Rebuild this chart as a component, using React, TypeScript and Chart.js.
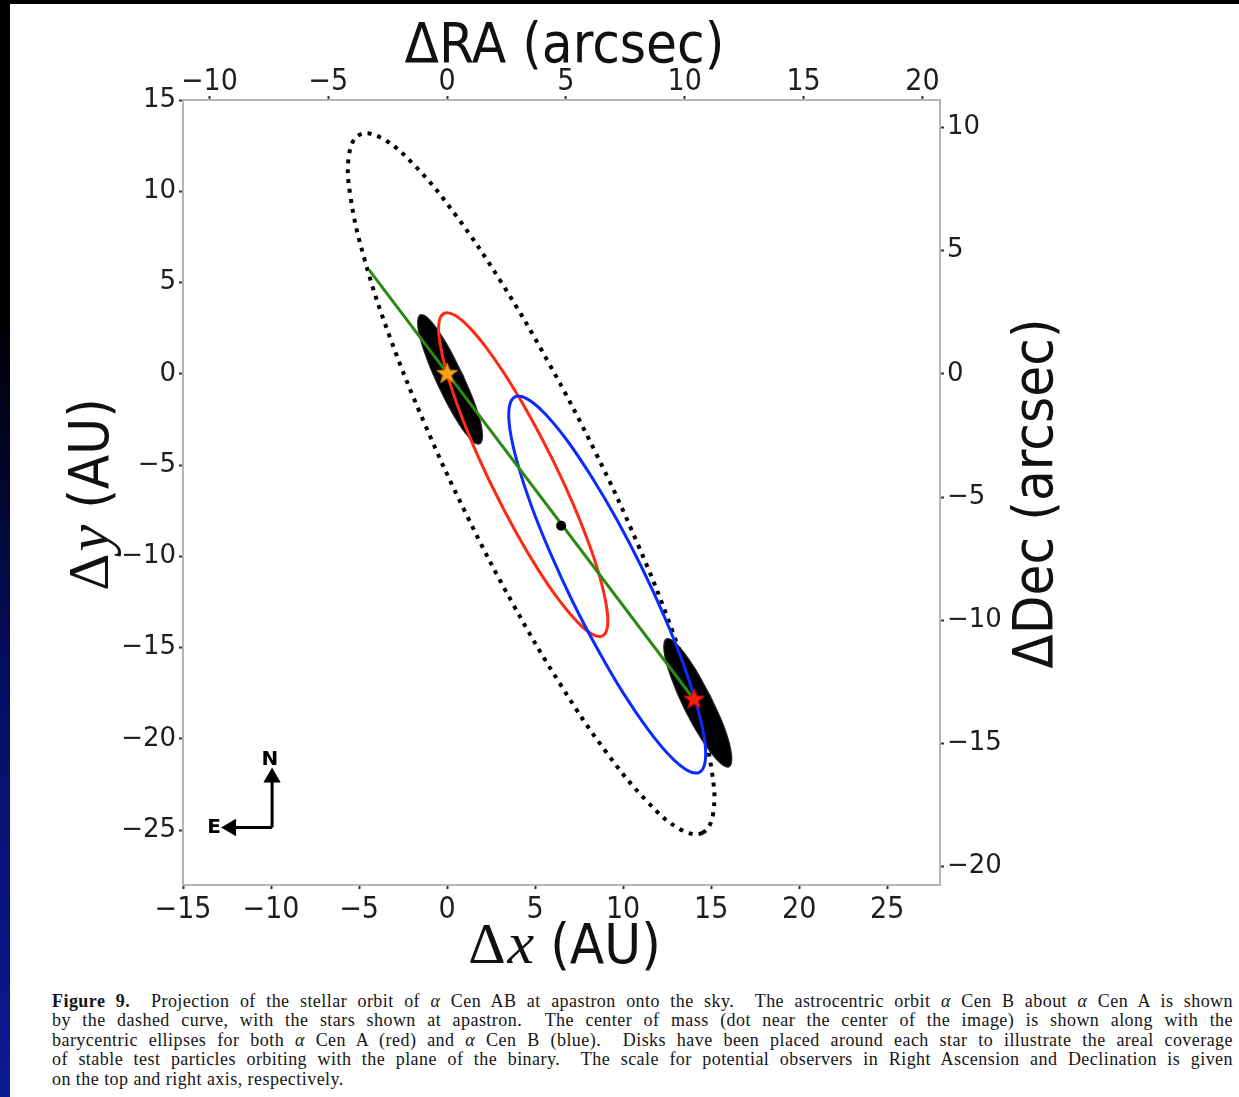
import React, { useEffect, useRef } from "react";
import { Chart, registerables } from "chart.js";

Chart.register(...registerables);

// ---------------- data ----------------
const X_TICKS = [-15, -10, -5, 0, 5, 10, 15, 20, 25];
const Y_TICKS = [15, 10, 5, 0, -5, -10, -15, -20, -25];
const RA_TICKS = [-10, -5, 0, 5, 10, 15, 20];
const DEC_TICKS = [10, 5, 0, -5, -10, -15, -20];
const X_MIN = -15;
const X_MAX = 28;
const Y_MIN = -28;
const Y_MAX = 15;
const AU_PER_ARCSEC = 1.35;

// astrocentric orbit of B about A (dotted)
const ORBIT_REL_X = [14.51, 15.12, 15.03, 14.24, 12.8, 10.82, 8.43, 5.78, 3.07, 0.47, -1.83, -3.68, -4.96, -5.57, -5.48, -4.69, -3.26, -1.27, 1.12, 3.76, 6.48, 9.07, 11.38, 13.23];
const ORBIT_REL_Y = [-25.14, -24.04, -21.72, -18.32, -14.09, -9.3, -4.3, 0.59, 5.03, 8.72, 11.4, 12.89, 13.1, 12.0, 9.67, 6.28, 2.04, -2.74, -7.75, -12.64, -17.08, -20.76, -23.44, -24.94];

// barycentric ellipse of alpha Cen A (red)
const ORBIT_A_X = [-0.17, -0.46, -0.41, -0.05, 0.62, 1.53, 2.64, 3.86, 5.11, 6.31, 7.38, 8.23, 8.82, 9.11, 9.06, 8.7, 8.04, 7.12, 6.01, 4.79, 3.54, 2.34, 1.28, 0.42];
const ORBIT_A_Y = [3.31, 2.8, 1.73, 0.16, -1.8, -4.01, -6.32, -8.58, -10.63, -12.33, -13.57, -14.26, -14.36, -13.85, -12.77, -11.2, -9.25, -7.04, -4.73, -2.47, -0.42, 1.29, 2.53, 3.22];

// barycentric ellipse of alpha Cen B (blue)
const ORBIT_B_X = [14.33, 14.66, 14.62, 14.19, 13.42, 12.35, 11.06, 9.64, 8.18, 6.79, 5.55, 4.55, 3.86, 3.53, 3.58, 4.01, 4.78, 5.85, 7.13, 8.56, 10.01, 11.41, 12.65, 13.65];
const ORBIT_B_Y = [-21.83, -21.24, -19.99, -18.16, -15.88, -13.31, -10.61, -7.98, -5.6, -3.61, -2.17, -1.37, -1.26, -1.85, -3.1, -4.93, -7.21, -9.78, -12.47, -15.1, -17.49, -19.47, -20.92, -21.72];

// disks of stable test particles
const DISK_A_X = [0.85, -0.1, -0.96, -1.5, -1.62, -1.25, -0.5, 0.44, 1.3, 1.84, 1.96, 1.6, 0.85];
const DISK_A_Y = [-0.05, 1.69, 2.88, 3.2, 2.58, 1.2, -0.57, -2.31, -3.5, -3.8, -3.15, -1.8, -0.05];
const DISK_B_X = [14.96, 13.98, 13.09, 12.5, 12.36, 12.74, 13.52, 14.5, 15.4, 15.99, 16.12, 15.74, 14.96];
const DISK_B_Y = [-17.74, -16.06, -14.9, -14.54, -15.18, -16.57, -18.34, -20.02, -21.16, -21.5, -20.84, -19.45, -17.74];

// stars, centre of mass, line of apsides
const STAR_A = { x: 0, y: 0 };
const STAR_B = { x: 14.03, y: -17.84 };
const CENTER_OF_MASS = { x: 6.48, y: -8.32 };
const LINE_X = [-4.43, 14.03];
const LINE_Y = [5.69, -17.84];

// compass
const COMPASS_N_X = [-9.94, -9.94];
const COMPASS_N_Y = [-24.85, -22.11];
const COMPASS_E_X = [-9.94, -12.27];
const COMPASS_E_Y = [-24.85, -24.85];
const LABEL_N = { x: -10.06, y: -21.13, text: "N" };
const LABEL_E = { x: -13.24, y: -24.85, text: "E" };

const CAPTION_LINES = [
  ["Figure 9.", "  Projection of the stellar orbit of ", "α", " Cen AB at apastron onto the sky.  The astrocentric orbit ", "α", " Cen B about ", "α", " Cen A is shown"],
  ["", "by the dashed curve, with the stars shown at apastron.  The center of mass (dot near the center of the image) is shown along with the"],
  ["", "barycentric ellipses for both ", "α", " Cen A (red) and ", "α", " Cen B (blue).  Disks have been placed around each star to illustrate the areal coverage"],
  ["", "of stable test particles orbiting with the plane of the binary.  The scale for potential observers in Right Ascension and Declination is given"],
  ["", "on the top and right axis, respectively."],
];

// ---------------- helpers ----------------
const SANS = "'DejaVu Sans', sans-serif";
const COND = "'DejaVu Sans Condensed', 'DejaVu Sans', sans-serif";
const SERIF = "'Liberation Serif', serif";

const pts = (xs: number[], ys: number[]) => xs.map((x, i) => ({ x, y: ys[i] }));
const closedLoop = (xs: number[], ys: number[]) => {
  const n = xs.length;
  const idx = [n - 1, ...xs.map((_, i) => i), 0, 1];
  return idx.map((i) => ({ x: xs[i], y: ys[i] }));
};
const fmt = (v: any) => (Number(v) < 0 ? "\u2212" + Math.abs(Number(v)) : String(v));

function starCanvas(fill: string, stroke: string, r: number) {
  const size = Math.ceil(2 * r + 4);
  const c = document.createElement("canvas");
  c.width = size;
  c.height = size;
  const g = c.getContext("2d")!;
  g.beginPath();
  for (let i = 0; i < 10; i++) {
    const ang = -Math.PI / 2 + (i * Math.PI) / 5;
    const rr = i % 2 === 0 ? r : r * 0.42;
    g.lineTo(size / 2 + rr * Math.cos(ang), size / 2 + rr * Math.sin(ang));
  }
  g.closePath();
  g.fillStyle = fill;
  g.fill();
  g.strokeStyle = stroke;
  g.lineWidth = 1;
  g.stroke();
  return c;
}

function drawParts(ctx: CanvasRenderingContext2D, parts: { text: string; font: string; gap?: number }[], x: number, y: number, rot: number) {
  ctx.save();
  ctx.translate(x, y);
  ctx.rotate(rot);
  let total = 0;
  const widths = parts.map((p) => {
    ctx.font = p.font;
    const w = ctx.measureText(p.text).width;
    total += w + (p.gap || 0);
    return w;
  });
  let cx = -total / 2;
  ctx.textAlign = "left";
  ctx.textBaseline = "alphabetic";
  parts.forEach((p, i) => {
    ctx.font = p.font;
    ctx.fillText(p.text, cx, 0);
    cx += widths[i] + (p.gap || 0);
  });
  ctx.restore();
}

const textPlugin = {
  id: "figureTexts",
  afterDraw(chart: any) {
    const ctx = chart.ctx as CanvasRenderingContext2D;
    const ca = chart.chartArea;
    const xs = chart.scales.x;
    const ys = chart.scales.y;
    ctx.save();
    ctx.fillStyle = "#111";
    const midX = (ca.left + ca.right) / 2;
    const midY = (ca.top + ca.bottom) / 2;
    drawParts(ctx, [{ text: "ΔRA (arcsec)", font: `56px ${COND}` }], midX + 3, ca.top - 38, 0);
    drawParts(
      ctx,
      [
        { text: "Δ", font: `58px ${SERIF}`, gap: 2 },
        { text: "x", font: `italic 60px ${SERIF}`, gap: 0 },
        { text: " (AU)", font: `56px ${COND}` },
      ],
      midX + 3,
      ca.bottom + 78,
      0
    );
    drawParts(
      ctx,
      [
        { text: "Δ", font: `58px ${SERIF}`, gap: 2 },
        { text: "y", font: `italic 60px ${SERIF}`, gap: 0 },
        { text: " (AU)", font: `56px ${COND}` },
      ],
      ca.left - 75,
      midY + 2,
      -Math.PI / 2
    );
    drawParts(ctx, [{ text: "ΔDec (arcsec)", font: `56px ${COND}` }], ca.right + 112, midY + 1, -Math.PI / 2);

    ctx.font = `bold 20px ${SANS}`;
    ctx.textAlign = "center";
    ctx.textBaseline = "middle";
    ctx.fillStyle = "#000";
    [LABEL_N, LABEL_E].forEach((l) => {
      ctx.fillText(l.text, xs.getPixelForValue(l.x), ys.getPixelForValue(l.y));
    });
    ctx.restore();
  },
};

function axis(position: string, min: number, max: number, ticks: number[], family: string, size: number, fit: number, pad: number) {
  const horizontal = position === "top" || position === "bottom";
  return {
    type: "linear",
    position,
    min,
    max,
    afterBuildTicks: (s: any) => {
      s.ticks = ticks.map((v) => ({ value: v }));
    },
    afterFit: (s: any) => {
      if (horizontal) s.height = fit;
      else s.width = fit;
    },
    ticks: {
      font: { family, size },
      color: "#1e1e1e",
      padding: pad,
      autoSkip: false,
      maxRotation: 0,
      minRotation: 0,
      callback: fmt,
    },
    grid: { drawOnChartArea: false, drawTicks: true, tickLength: 4, tickWidth: 2, tickColor: "#333" },
    border: { display: true, color: "#b4b4b4", width: 2 },
  };
}

function closedCurve(xs: number[], ys: number[], color: string, width: number, order: number, dash?: number[]) {
  const n = xs.length;
  const hidden = "rgba(0,0,0,0)";
  return {
    data: closedLoop(xs, ys),
    showLine: true,
    borderColor: color,
    borderWidth: width,
    borderDash: dash || [],
    borderCapStyle: "butt",
    tension: 0.4,
    pointRadius: 0,
    fill: false,
    order,
    segment: {
      borderColor: (c: any) => (c.p0DataIndex === 0 || c.p0DataIndex === n + 1 ? hidden : color),
    },
  };
}

function disk(xs: number[], ys: number[]) {
  return {
    data: pts(xs, ys),
    showLine: true,
    borderColor: "rgba(0,0,0,0.85)",
    backgroundColor: "#000",
    borderWidth: 2.5,
    tension: 0.4,
    pointRadius: 0,
    fill: "shape",
    order: 5,
  };
}

function ChartView() {
  const ref = useRef<HTMLCanvasElement | null>(null);
  useEffect(() => {
    if (!ref.current) return;
    const starA = starCanvas("#f7a21b", "#c87800", 11);
    const starB = starCanvas("#ff1e0c", "#c00000", 11);
    const chart = new Chart(ref.current, {
      type: "line",
      data: {
        datasets: [
          { data: [STAR_A], showLine: false, pointStyle: starA as any, pointRadius: 11, order: 0 },
          { data: [STAR_B], showLine: false, pointStyle: starB as any, pointRadius: 11, order: 0 },
          { data: [CENTER_OF_MASS], showLine: false, pointRadius: 5, pointBackgroundColor: "#000", pointBorderColor: "#000", pointBorderWidth: 0, order: 1 },
          { data: pts(LINE_X, LINE_Y), showLine: true, borderColor: "#2a8a12", borderWidth: 3, pointRadius: 0, order: 2 },
          closedCurve(ORBIT_B_X, ORBIT_B_Y, "#0c2cff", 3, 3),
          closedCurve(ORBIT_A_X, ORBIT_A_Y, "#ff2a16", 3, 4),
          disk(DISK_A_X, DISK_A_Y),
          disk(DISK_B_X, DISK_B_Y),
          closedCurve(ORBIT_REL_X, ORBIT_REL_Y, "#000", 4, 6, [4, 6]),
          {
            data: pts(COMPASS_N_X, COMPASS_N_Y),
            showLine: true,
            borderColor: "#000",
            borderWidth: 3,
            pointRadius: [0, 7],
            pointStyle: "triangle",
            rotation: 0,
            pointBackgroundColor: "#000",
            pointBorderColor: "#000",
            order: 7,
          },
          {
            data: pts(COMPASS_E_X, COMPASS_E_Y),
            showLine: true,
            borderColor: "#000",
            borderWidth: 3,
            pointRadius: [0, 7],
            pointStyle: "triangle",
            rotation: 270,
            pointBackgroundColor: "#000",
            pointBorderColor: "#000",
            order: 7,
          },
        ] as any,
      },
      options: {
        responsive: false,
        animation: false,
        devicePixelRatio: 1,
        layout: { padding: 0 },
        plugins: { legend: { display: false }, tooltip: { enabled: false } },
        elements: { line: { capBezierPoints: false } },
        scales: {
          x: axis("bottom", X_MIN, X_MAX, X_TICKS, COND, 30, 90, 3),
          x2: axis("top", X_MIN / AU_PER_ARCSEC, X_MAX / AU_PER_ARCSEC, RA_TICKS, COND, 30, 100, -4),
          y: axis("left", Y_MIN, Y_MAX, Y_TICKS, SANS, 26, 183, 3),
          y2: axis("right", Y_MIN / AU_PER_ARCSEC, Y_MAX / AU_PER_ARCSEC, DEC_TICKS, SANS, 26, 299, 3),
        } as any,
      } as any,
      plugins: [textPlugin],
    });
    return () => chart.destroy();
  }, []);
  return <canvas ref={ref} width={1239} height={975} style={{ position: "absolute", left: 0, top: 0, width: 1239, height: 975 }} />;
}

export default function App() {
  return (
    <div style={{ position: "absolute", left: 0, top: 0, width: 1239, height: 1097, background: "#000", overflow: "hidden" }}>
      <div
        style={{
          position: "absolute",
          left: 0,
          top: 0,
          width: 10,
          height: 1097,
          background: "linear-gradient(to bottom, #000 0%, #000 28%, #050e62 62%, #0b1a96 100%)",
        }}
      />
      <div style={{ position: "absolute", left: 10, top: 4, width: 1229, height: 1093, background: "#fff" }} />
      <ChartView />
      <div
        style={{
          position: "absolute",
          left: 52,
          top: 992,
          width: 1181,
          fontFamily: SERIF,
          fontSize: 18,
          letterSpacing: "0.45px",
          lineHeight: "19.4px",
          color: "#151515",
        }}
      >
        {CAPTION_LINES.map((parts, i) => (
          <div key={i} style={{ textAlign: i < 4 ? "justify" : "left", textAlignLast: i < 4 ? "justify" : "left", whiteSpace: "pre-wrap" } as any}>
            {parts.map((p, j) =>
              j === 0 ? (
                <b key={j}>{p}</b>
              ) : p === "α" ? (
                <i key={j}>{p}</i>
              ) : (
                <span key={j}>{p}</span>
              )
            )}
          </div>
        ))}
      </div>
    </div>
  );
}
